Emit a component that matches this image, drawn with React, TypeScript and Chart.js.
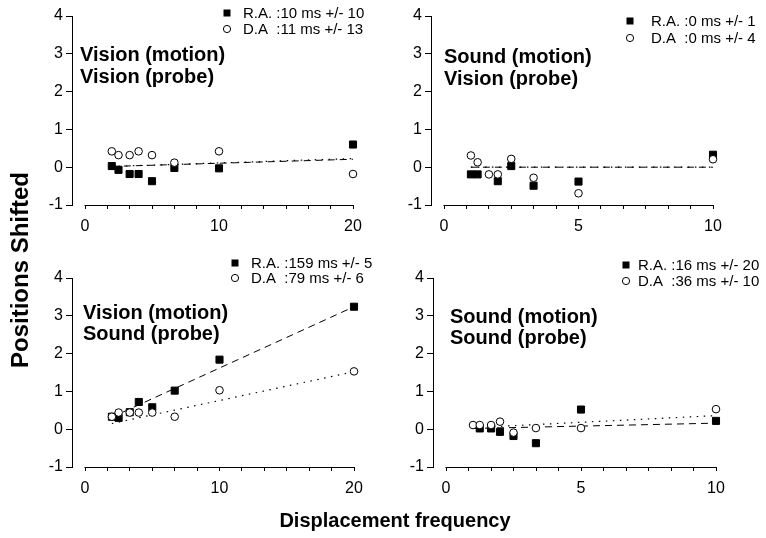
import React, { useEffect, useRef } from "react";
import { Chart, registerables } from "chart.js";

Chart.register(...registerables);

// ---------- data ----------
const FREQ_WIDE = [2, 2.5, 3.33, 4, 5, 6.67, 10, 20];
const FREQ_NARROW = [1, 1.25, 1.67, 2, 2.5, 3.33, 5, 10];

// Vision (motion) / Vision (probe)
const VV_RA = [0.03, -0.07, -0.18, -0.18, -0.37, -0.02, -0.03, 0.6];
const VV_DA = [0.42, 0.32, 0.32, 0.42, 0.32, 0.12, 0.42, -0.18];
const VV_FIT_RA = [[2, 0.02], [20, 0.21]];
const VV_FIT_DA = [[2, 0.02], [20, 0.23]];

// Sound (motion) / Vision (probe)
const SV_RA = [-0.19, -0.19, null, -0.37, 0.03, -0.49, -0.38, 0.33];
const SV_DA = [0.31, 0.13, -0.19, -0.19, 0.22, -0.28, -0.69, 0.21];
const SV_FIT_RA = [[1, 0], [10, 0]];
const SV_FIT_DA = [[1, 0], [10, 0]];

// Vision (motion) / Sound (probe)
const VS_RA = [0.33, 0.3, 0.45, 0.72, 0.58, 1.02, 1.84, 3.24];
const VS_DA = [0.33, 0.44, 0.44, 0.44, 0.44, 0.33, 1.03, 1.53];
const VS_FIT_RA = [[2, 0.32], [20, 3.24]];
const VS_FIT_DA = [[2, 0.15], [20, 1.52]];

// Sound (motion) / Sound (probe)
const SS_RA = [null, 0.02, 0.02, -0.07, -0.18, -0.37, 0.52, 0.22];
const SS_DA = [0.11, 0.11, 0.11, 0.2, -0.09, 0.03, 0.03, 0.53];
const SS_FIT_RA = [[1, 0.02], [10, 0.16]];
const SS_FIT_DA = [[1, 0.04], [10, 0.36]];

const Y_TICKS = [-1, 0, 1, 2, 3, 4];
const X_LABELS_WIDE = [0, 10, 20];
const X_LABELS_NARROW = [0, 5, 10];
const X_MINOR_PER_MAJOR = 6;

const LEGEND_VV = ["R.A. :10 ms +/- 10", "D.A  :11 ms +/- 13"];
const LEGEND_SV = ["R.A. :0 ms +/- 1", "D.A  :0 ms +/- 4"];
const LEGEND_VS = ["R.A. :159 ms +/- 5", "D.A  :79 ms +/- 6"];
const LEGEND_SS = ["R.A. :16 ms +/- 20", "D.A  :36 ms +/- 10"];

const NOTE_VV = ["Vision (motion)", "Vision (probe)"];
const NOTE_SV = ["Sound (motion)", "Vision (probe)"];
const NOTE_VS = ["Vision (motion)", "Sound (probe)"];
const NOTE_SS = ["Sound (motion)", "Sound (probe)"];

const Y_TITLE = "Positions Shifted";
const X_TITLE = "Displacement frequency";

// ---------- layout ----------
const W = 766;
const H = 538;
const FONT = '"Liberation Sans", Arial, Helvetica, sans-serif';
const Y_AXIS_W = 40;
const X_AXIS_H = 30;
const AXIS_GAP = 13;

const PANELS = [
  {
    freq: FREQ_WIDE, ra: VV_RA, da: VV_DA, fitRa: VV_FIT_RA, fitDa: VV_FIT_DA,
    xLabels: X_LABELS_WIDE, legend: LEGEND_VV, note: NOTE_VV,
    area: { left: 72, right: 353, top: 16, bottom: 205 },
    legendPos: { mx: 227, tx: 243, y: 13, gap: 16 },
    notePos: { x: 80, y: 55, gap: 22 },
    titles: true,
  },
  {
    freq: FREQ_NARROW, ra: SV_RA, da: SV_DA, fitRa: SV_FIT_RA, fitDa: SV_FIT_DA,
    xLabels: X_LABELS_NARROW, legend: LEGEND_SV, note: NOTE_SV,
    area: { left: 431, right: 713, top: 16, bottom: 205 },
    legendPos: { mx: 630, tx: 651, y: 21, gap: 17 },
    notePos: { x: 444, y: 57, gap: 22 },
    titles: false,
  },
  {
    freq: FREQ_WIDE, ra: VS_RA, da: VS_DA, fitRa: VS_FIT_RA, fitDa: VS_FIT_DA,
    xLabels: X_LABELS_WIDE, legend: LEGEND_VS, note: NOTE_VS,
    area: { left: 72, right: 354, top: 278, bottom: 467 },
    legendPos: { mx: 235, tx: 251, y: 263, gap: 15 },
    notePos: { x: 83, y: 313, gap: 21 },
    titles: false,
  },
  {
    freq: FREQ_NARROW, ra: SS_RA, da: SS_DA, fitRa: SS_FIT_RA, fitDa: SS_FIT_DA,
    xLabels: X_LABELS_NARROW, legend: LEGEND_SS, note: NOTE_SS,
    area: { left: 433, right: 716, top: 278, bottom: 467 },
    legendPos: { mx: 626, tx: 638, y: 265, gap: 16 },
    notePos: { x: 450, y: 317, gap: 21 },
    titles: false,
  },
];

const decorPlugin = {
  id: "decor",
  beforeDatasetsDraw(chart: any, _args: any, opts: any) {
    const ctx = chart.ctx;
    const xs = chart.scales.x;
    const area = chart.chartArea;
    ctx.save();
    ctx.strokeStyle = "#000";
    ctx.lineWidth = 1;
    ctx.beginPath();
    const y = Math.round(area.bottom) + 0.5;
    ctx.moveTo(xs.getPixelForValue(opts.axisFrom) - 0.5, y);
    ctx.lineTo(xs.getPixelForValue(opts.axisTo) + 0.5, y);
    ctx.stroke();
    ctx.restore();
  },
  afterDatasetsDraw(chart: any, _args: any, opts: any) {
    const ctx = chart.ctx;
    ctx.save();
    ctx.fillStyle = "#000";
    // legend
    const lp = opts.legendPos;
    ctx.font = `15px ${FONT}`;
    ctx.textBaseline = "middle";
    ctx.textAlign = "left";
    ctx.fillRect(lp.mx - 3.5, lp.y - 3.5, 7, 7);
    ctx.fillText(opts.legend[0], lp.tx, lp.y + 1);
    ctx.beginPath();
    ctx.arc(lp.mx, lp.y + lp.gap, 3.6, 0, Math.PI * 2);
    ctx.fillStyle = "#fff";
    ctx.fill();
    ctx.strokeStyle = "#000";
    ctx.lineWidth = 1;
    ctx.stroke();
    ctx.fillStyle = "#000";
    ctx.fillText(opts.legend[1], lp.tx, lp.y + lp.gap + 1);
    // note
    const np = opts.notePos;
    ctx.font = `bold 20px ${FONT}`;
    opts.note.forEach((line: string, i: number) => {
      ctx.fillText(line, np.x, np.y + i * np.gap);
    });
    // shared axis titles
    if (opts.titles) {
      ctx.textAlign = "center";
      ctx.font = `bold 20px ${FONT}`;
      ctx.fillText(X_TITLE, 395, 521);
      ctx.save();
      ctx.translate(21, 270);
      ctx.rotate(-Math.PI / 2);
      ctx.font = `bold 24px ${FONT}`;
      ctx.fillText(Y_TITLE, 0, 0);
      ctx.restore();
    }
    ctx.restore();
  },
};

function buildConfig(p: any) {
  const xMax = p.xLabels[p.xLabels.length - 1];
  const xFirst = p.xLabels[0];
  const span = p.area.right - p.area.left;
  const xMin = xFirst - (AXIS_GAP * (xMax - xFirst)) / (span - AXIS_GAP);
  const majorStep = p.xLabels[1] - p.xLabels[0];
  const minorStep = majorStep / X_MINOR_PER_MAJOR;
  const xTicks: number[] = [];
  const nTicks = Math.round((xMax - xFirst) / minorStep);
  for (let i = 0; i <= nTicks; i++) xTicks.push(xFirst + i * minorStep);

  const pts = (ys: (number | null)[]) =>
    p.freq
      .map((x: number, i: number) => ({ x, y: ys[i] }))
      .filter((d: any) => d.y !== null);
  const fit = (arr: number[][]) => arr.map(([x, y]) => ({ x, y }));

  return {
    type: "scatter",
    data: {
      datasets: [
        {
          label: "D.A",
          data: pts(p.da),
          pointStyle: "circle",
          pointRadius: 3.8,
          pointBackgroundColor: "#fff",
          pointBorderColor: "#000",
          pointBorderWidth: 1,
          showLine: false,
          clip: false,
          order: 0,
        },
        {
          label: "R.A.",
          data: pts(p.ra),
          pointStyle: "rect",
          pointRadius: 5,
          pointBackgroundColor: "#000",
          pointBorderColor: "#000",
          pointBorderWidth: 1,
          showLine: false,
          clip: false,
          order: 1,
        },
        {
          label: "R.A. fit",
          data: fit(p.fitRa),
          showLine: true,
          pointRadius: 0,
          borderColor: "#000",
          borderWidth: 1,
          borderDash: [7, 5],
          clip: false,
          order: 2,
        },
        {
          label: "D.A fit",
          data: fit(p.fitDa),
          showLine: true,
          pointRadius: 0,
          borderColor: "#000",
          borderWidth: 1.2,
          borderDash: [1.5, 5.5],
          clip: false,
          order: 3,
        },
      ],
    },
    options: {
      responsive: false,
      animation: false,
      devicePixelRatio: 1,
      events: [],
      layout: {
        autoPadding: false,
        padding: {
          left: p.area.left - Y_AXIS_W,
          right: W - p.area.right,
          top: p.area.top,
          bottom: H - p.area.bottom - X_AXIS_H,
        },
      },
      plugins: {
        legend: { display: false },
        tooltip: { enabled: false },
        title: { display: false },
        decor: {
          axisFrom: xFirst,
          axisTo: xMax,
          legend: p.legend,
          legendPos: p.legendPos,
          note: p.note,
          notePos: p.notePos,
          titles: p.titles,
        },
      },
      scales: {
        x: {
          type: "linear",
          min: xMin,
          max: xMax,
          bounds: "data",
          afterBuildTicks: (s: any) => {
            s.ticks = xTicks.map((v) => ({ value: v }));
          },
          afterFit: (s: any) => {
            s.height = X_AXIS_H;
            s.paddingLeft = 0;
            s.paddingRight = 0;
          },
          grid: {
            drawOnChartArea: false,
            drawTicks: true,
            tickLength: 4,
            color: "#000",
            lineWidth: 1,
          },
          border: { display: false },
          ticks: {
            autoSkip: false,
            maxRotation: 0,
            minRotation: 0,
            padding: 8,
            color: "#000",
            font: { family: FONT, size: 16 },
            callback: (v: number) => {
              const hit = p.xLabels.find((l: number) => Math.abs(l - v) < 1e-6);
              return hit === undefined ? "" : String(hit);
            },
          },
        },
        y: {
          type: "linear",
          min: Y_TICKS[0],
          max: Y_TICKS[Y_TICKS.length - 1],
          bounds: "data",
          afterBuildTicks: (s: any) => {
            s.ticks = Y_TICKS.map((v) => ({ value: v }));
          },
          afterFit: (s: any) => {
            s.width = Y_AXIS_W;
            s.paddingTop = 0;
            s.paddingBottom = 0;
          },
          grid: {
            drawOnChartArea: false,
            drawTicks: true,
            tickLength: 6,
            color: "#000",
            lineWidth: 1,
          },
          border: { display: true, color: "#000", width: 1 },
          ticks: {
            padding: 3,
            color: "#000",
            font: { family: FONT, size: 16 },
            callback: (v: number) => String(v),
          },
        },
      },
    },
    plugins: [decorPlugin],
  };
}

function Panel({ p }: { p: any }) {
  const ref = useRef<HTMLCanvasElement | null>(null);
  useEffect(() => {
    if (!ref.current) return;
    const chart = new Chart(ref.current, buildConfig(p) as any);
    return () => chart.destroy();
  }, [p]);
  return (
    <canvas
      ref={ref}
      width={W}
      height={H}
      style={{ position: "absolute", left: 0, top: 0, width: W, height: H }}
    />
  );
}

export default function App() {
  return (
    <div
      style={{
        position: "absolute",
        left: 0,
        top: 0,
        width: W,
        height: H,
        background: "#fff",
        overflow: "hidden",
      }}
    >
      {PANELS.map((p, i) => (
        <Panel key={i} p={p} />
      ))}
    </div>
  );
}
